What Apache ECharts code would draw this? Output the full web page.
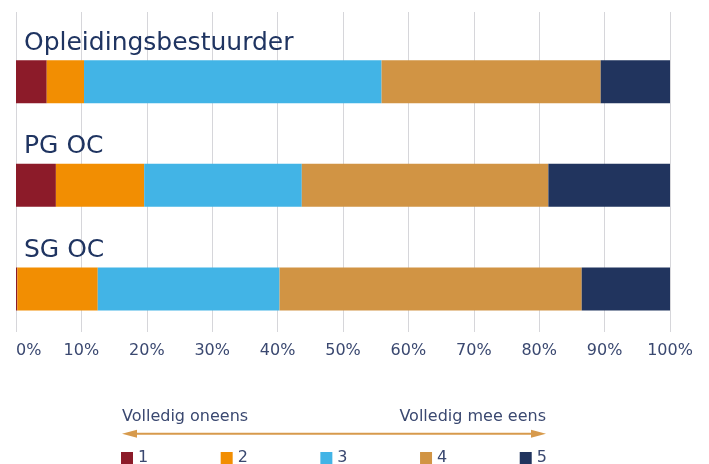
<!DOCTYPE html>
<html>
<head>
<meta charset="utf-8">
<script src="https://cdn.jsdelivr.net/npm/echarts@6/dist/echarts.min.js"></script>
<style>
  html, body { margin: 0; padding: 0; background: #ffffff; }
  #chart { width: 709px; height: 464px; }
</style>
</head>
<body>
<div id="chart"></div>
<script>
const categories = ['Opleidingsbestuurder', 'PG OC', 'SG OC'];
const seriesNames = ['1', '2', '3', '4', '5'];
const s1 = [4.7, 6.1, 0.2];
const s2 = [5.7, 13.5, 12.3];
const s3 = [45.5, 24.1, 27.8];
const s4 = [33.5, 37.7, 46.2];
const s5 = [10.6, 18.6, 13.5];
const tickValues = [0, 10, 20, 30, 40, 50, 60, 70, 80, 90, 100];
const scaleLeft = 'Volledig oneens';
const scaleRight = 'Volledig mee eens';

const colors = ['#8c1b29', '#f28e02', '#42b4e6', '#d19444', '#21345e'];
const seriesData = [s1, s2, s3, s4, s5];
const FONT = 'DejaVu Sans';
const textNavy = '#1f3461';
const tickColor = '#3a4870';
const arrowColor = '#d79a4c';

const chart = echarts.init(document.getElementById('chart'), null, { renderer: 'canvas' });

const series = seriesNames.map((name, i) => ({
  name: name,
  type: 'bar',
  stack: 'total',
  xAxisIndex: 1,
  yAxisIndex: 1,
  barWidth: 43,
  itemStyle: { color: colors[i] },
  emphasis: { disabled: true },
  label: i === 0 ? {
    show: true,
    formatter: '{b}',
    position: [8, -17],
    align: 'left',
    verticalAlign: 'middle',
    color: textNavy,
    fontFamily: FONT,
    fontSize: 25
  } : { show: false },
  labelLayout: { hideOverlap: false },
  data: seriesData[i]
}));

const option = {
  animation: false,
  textStyle: { fontFamily: FONT },
  color: colors,
  grid: [
    { left: 16, right: 39, top: 12, bottom: 132, containLabel: false },
    { left: 16, right: 39, top: 29.8, height: 311, containLabel: false }
  ],
  xAxis: [
    {
      gridIndex: 0,
      type: 'value',
      min: tickValues[0],
      max: tickValues[tickValues.length - 1],
      interval: 10,
      axisLine: { show: false },
      axisTick: { show: false },
      splitLine: { show: true, lineStyle: { color: '#d6d6da', width: 1 } },
      axisLabel: {
        formatter: '{value}%',
        color: tickColor,
        fontFamily: FONT,
        fontSize: 16,
        margin: 11,
        alignMinLabel: 'left'
      }
    },
    {
      gridIndex: 1,
      type: 'value',
      min: 0,
      max: 100,
      show: false
    }
  ],
  yAxis: [
    {
      gridIndex: 0,
      type: 'value',
      show: false
    },
    {
      gridIndex: 1,
      type: 'category',
      inverse: true,
      data: categories,
      axisLine: { show: false },
      axisTick: { show: false },
      splitLine: { show: false },
      axisLabel: { show: false }
    }
  ],
  legend: {
    data: seriesNames,
    left: 121,
    top: 450,
    padding: 0,
    orient: 'horizontal',
    itemWidth: 12,
    itemHeight: 12,
    itemGap: 72.5,
    icon: 'rect',
    selectedMode: false,
    textStyle: { color: tickColor, fontFamily: FONT, fontSize: 16 }
  },
  graphic: [
    {
      type: 'text',
      style: { x: 122, y: 417, text: scaleLeft, fill: tickColor, font: '16px "DejaVu Sans"', textAlign: 'left', textVerticalAlign: 'middle' }
    },
    {
      type: 'text',
      style: { x: 546, y: 417, text: scaleRight, fill: tickColor, font: '16px "DejaVu Sans"', textAlign: 'right', textVerticalAlign: 'middle' }
    },
    {
      type: 'line',
      shape: { x1: 134, y1: 433.7, x2: 534, y2: 433.7 },
      style: { stroke: arrowColor, lineWidth: 2 }
    },
    {
      type: 'polygon',
      shape: { points: [[122, 433.7], [137, 429.7], [137, 437.7]] },
      style: { fill: arrowColor }
    },
    {
      type: 'polygon',
      shape: { points: [[546, 433.7], [531, 429.7], [531, 437.7]] },
      style: { fill: arrowColor }
    }
  ],
  series: series
};

chart.setOption(option);
</script>
</body>
</html>
